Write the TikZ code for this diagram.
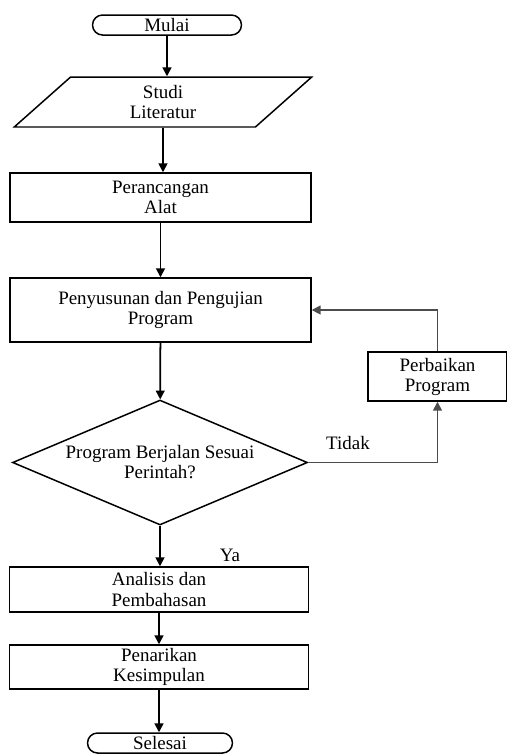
\documentclass[tikz,border=0pt]{standalone}
\usepackage{fontspec}
\setmainfont{Liberation Serif}
\usetikzlibrary{arrows.meta,shapes.geometric,positioning}

\begin{document}
\begin{tikzpicture}[x=0.02cm,y=-0.02cm,
  font=\fontsize{10.8}{11.4}\selectfont,
  proses/.style={draw,line width=0.85pt,align=center,minimum width=6.02cm,inner sep=1pt},
  terminal/.style={draw,line width=0.85pt,rounded corners=0.2cm,minimum width=2.98cm,minimum height=0.4cm,inner sep=0pt},
  io/.style={trapezium,trapezium left angle=60,trapezium right angle=120,trapezium stretches=true,draw,line width=0.85pt,align=center,minimum width=5.96cm,minimum height=1cm,inner sep=1pt},
  keputusan/.style={diamond,draw,line width=0.85pt,align=center,aspect=2.36,minimum width=5.9cm,minimum height=2.5cm,inner sep=0pt},
  panah/.style={-{Triangle[length=5pt,width=5pt]},line width=1pt},
  balik/.style={-{Triangle[length=5pt,width=5pt]},line width=0.9pt,black!70}]
\useasboundingbox (0,0) rectangle (507,755);

% Alur utama
\node[terminal] (mulai) at (167,25) {Mulai};
\node[io] (studi) at (163,102) {Studi\\Literatur};
\node[proses,minimum height=0.98cm] (rancang) at (160.5,197.5) {Perancangan\\Alat};
\node[proses,minimum height=1.28cm] (susun) at (160.5,310) {Penyusunan dan Pengujian\\Program};
\node[keputusan] (cek) at (160,462.5) {Program Berjalan Sesuai\\Perintah?};
\node[proses,minimum width=5.98cm,minimum height=0.9cm] (analisis) at (159,589.5) {Analisis dan\\Pembahasan};
\node[proses,minimum width=5.98cm,minimum height=0.88cm] (tarik) at (159,667) {Penarikan\\Kesimpulan};
\node[terminal,minimum width=2.9cm] (selesai) at (160,743) {Selesai};

% Perbaikan
\node[proses,minimum width=2.78cm,minimum height=0.98cm] (perbaikan) at (437.5,376.5) {Perbaikan\\Program};

% Panah
\draw[panah] (mulai) -- (studi.north -| mulai);
\draw[panah] (studi) -- (rancang.north -| studi);
\draw[panah] (rancang) -- (susun.north -| rancang);
\draw[panah] (susun) -- (cek);
\draw[panah] (cek) -- (analisis.north -| cek);
\draw[panah] (analisis) -- (tarik.north -| analisis);
\draw[panah] (tarik) -- (selesai.north -| tarik);
\draw[balik] (cek.east) -| (perbaikan.south);
\draw[balik] (perbaikan.north) |- (susun.east);

% Label
\node (tidak) at (348,443) {Tidak};
\node (ya) at (230,555) {Ya};
\end{tikzpicture}
\end{document}
